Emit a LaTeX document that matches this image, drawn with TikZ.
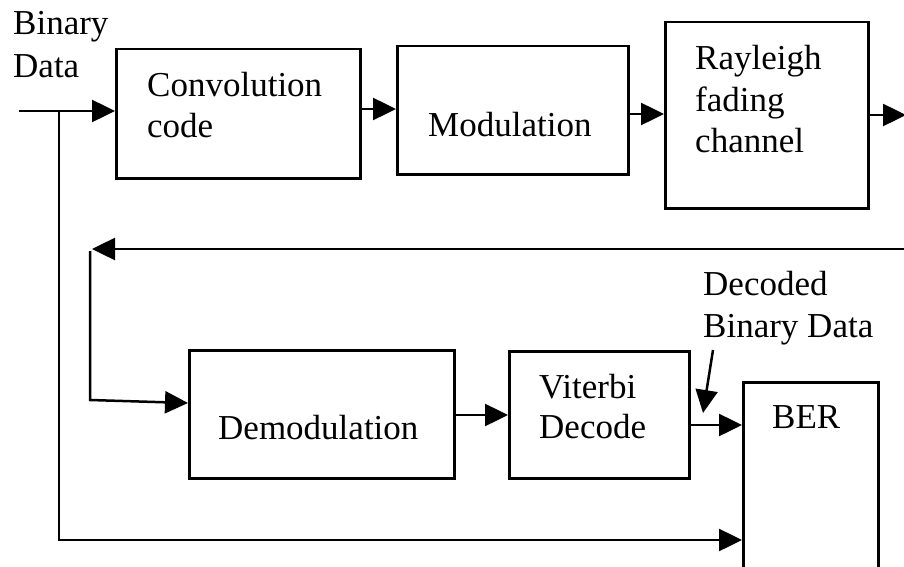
\documentclass[tikz,border=0pt]{standalone}
\usepackage{fontspec}
\setmainfont{Liberation Serif}
\usetikzlibrary{arrows.meta}
\begin{document}
\begin{tikzpicture}[x=1pt,y=-1pt,
  blk/.style={draw, line width=2.5pt, rectangle, inner sep=0pt},
  lbl/.style={anchor=base west, inner sep=0pt, font=\fontsize{35}{41}\selectfont},
  arr/.style={line width=2.5pt, -{Triangle[length=23pt,width=22pt]}}]
\useasboundingbox (0,0) rectangle (904,567);
% boxes
\node[blk, minimum width=244pt, minimum height=129pt, anchor=north west] (conv) at (115,48) {};
\node[blk, minimum width=231pt, minimum height=128pt, anchor=north west] (mod) at (396,45) {};
\node[blk, minimum width=203pt, minimum height=186pt, anchor=north west] (ray) at (664,21) {};
\node[blk, minimum width=265pt, minimum height=128pt, anchor=north west] (demod) at (188,349) {};
\node[blk, minimum width=180pt, minimum height=127pt, anchor=north west] (vit) at (508,350) {};
\node[blk, minimum width=135pt, minimum height=220pt, anchor=north west] (ber) at (742,381) {};
% texts
\node[lbl] (tbin1) at (13,35) {Binary};
\node[lbl] (tbin2) at (13,78) {Data};
\node[lbl] (tconv1) at (147,97) {Convolution};
\node[lbl] (tconv2) at (147,137) {code};
\node[lbl] (tmod) at (428,136) {Modulation};
\node[lbl] (tray1) at (695,70) {Rayleigh};
\node[lbl] (tray2) at (695,111) {fading};
\node[lbl] (tray3) at (695,152) {channel};
\node[lbl] (tdemod) at (218,439) {Demodulation};
\node[lbl] (tvit1) at (539,398) {Viterbi};
\node[lbl] (tvit2) at (539,438) {Decode};
\node[lbl] (tber) at (772,428) {BER};
\node[lbl] (tdec1) at (703,295) {Decoded};
\node[lbl] (tdec2) at (703,337) {Binary Data};
% coordinates
\coordinate (in) at (19,111);
\coordinate (br) at (59,111);
\coordinate (brb) at (59,540);
\coordinate (out) at (906,115);
\coordinate (fbr) at (904,249);
\coordinate (fbl) at (92,249);
\coordinate (fbt) at (90,251);
\coordinate (fbb) at (90,400);
\coordinate (annS) at (713,350);
\coordinate (annE) at (703,413);
% connectors
\draw[arr] (in) -- (in -| conv.west);
\draw[arr] (conv.east |- 0,109) -- (mod.west |- 0,109);
\draw[arr] (mod.east |- 0,114) -- (ray.west |- 0,114);
\draw[arr] (ray.east |- out) -- (out);
\draw[arr] (fbr) -- (fbl);
\draw[arr] (fbt) -- (fbb) -- (demod.west |- 0,403);
\draw[arr] (demod.east |- 0,415) -- (vit.west |- 0,415);
\draw[arr] (vit.east |- 0,425) -- (ber.west |- 0,425);
\draw[arr] (br) -- (brb) -- (brb -| ber.west);
\draw[arr] (annS) -- (annE);
\end{tikzpicture}
\end{document}
